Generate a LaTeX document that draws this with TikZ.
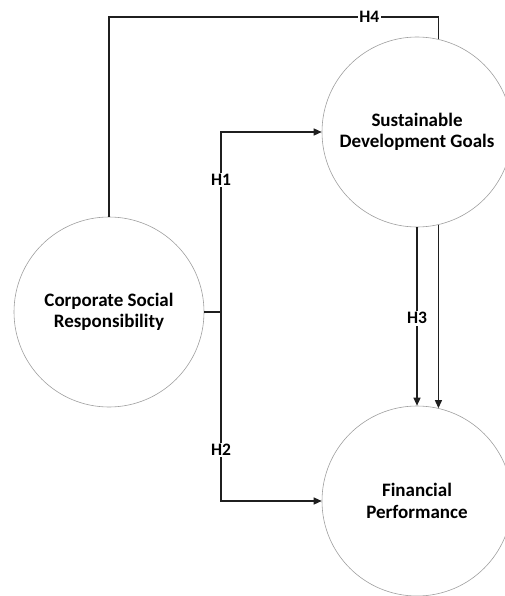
\documentclass[tikz,border=0pt]{standalone}
\usepackage{fontspec}
\setmainfont{Carlito}
\usetikzlibrary{arrows.meta,calc}
\begin{document}
\begin{tikzpicture}[x=1pt,y=-1pt,
  concept/.style={circle,draw=gray!75,line width=0.6pt,minimum size=190pt,inner sep=0pt,
    align=center,font=\fontsize{19}{21.5}\selectfont\bfseries},
  link/.style={draw=black!88,line width=1.3pt},
  arr/.style={link,-{Triangle[length=8pt,width=7pt]}},
  lab/.style={fill=white,inner sep=1.5pt,font=\fontsize{17.5}{20}\selectfont\bfseries}]
\useasboundingbox (0,0) rectangle (504,596);
\node[concept] (csr) at (109,312) {Corporate Social\\Responsibility};
\node[concept] (sdg) at (417,132) {Sustainable\\Development Goals};
\node[concept] (fp) at (417,501) {Financial\\Performance};
\coordinate (j) at (221,312);
% H4
\draw[link] (csr.north) -- (csr.north |- 0,17) -- node[lab,pos=0.79]{H4} (sdg.77 |- 0,17) -- (sdg.77);
% H1 / H2
\draw[link] (csr.east) -- (j);
\draw[arr] (j) -- node[lab,pos=0.733]{H1} (j |- sdg.west) -- (sdg.west);
\draw[arr] (j) -- node[lab,pos=0.73]{H2} (j |- fp.west) -- (fp.west);
% H3
\draw[arr] (sdg.south) -- node[lab,pos=0.51]{H3} (fp.north);
\draw[arr] (sdg.-77) -- (fp.77);
\end{tikzpicture}
\end{document}
